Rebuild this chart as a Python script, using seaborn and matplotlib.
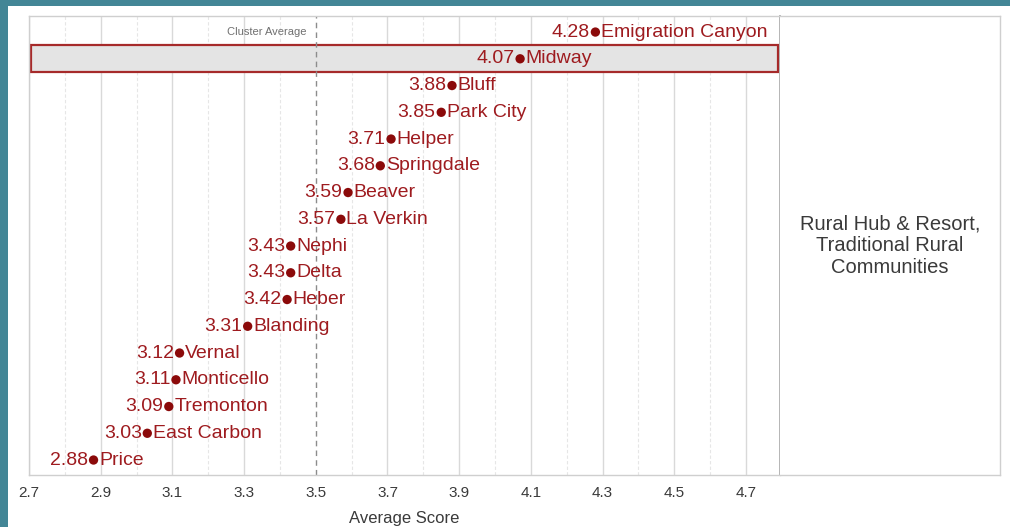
import matplotlib
matplotlib.use("Agg")
import matplotlib.pyplot as plt
from matplotlib.patches import Rectangle
import pandas as pd
import seaborn as sns

# values
places = ['Emigration Canyon', 'Midway', 'Bluff', 'Park City', 'Helper', 'Springdale',
          'Beaver', 'La Verkin', 'Nephi', 'Delta', 'Heber', 'Blanding', 'Vernal',
          'Monticello', 'Tremonton', 'East Carbon', 'Price']
scores = [4.28, 4.07, 3.88, 3.85, 3.71, 3.68, 3.59, 3.57, 3.43, 3.43, 3.42, 3.31,
          3.12, 3.11, 3.09, 3.03, 2.88]
highlight = 'Midway'
cluster_avg = 3.5
cluster_name = 'Rural Hub & Resort,\nTraditional Rural\nCommunities'
major_ticks = [2.7, 2.9, 3.1, 3.3, 3.5, 3.7, 3.9, 4.1, 4.3, 4.5, 4.7]
minor_ticks = [2.8, 3.0, 3.2, 3.4, 3.6, 3.8, 4.0, 4.2, 4.4, 4.6]

RED_TXT = '#9e1b1f'
RED_DOT = '#8b0a0a'


def main():
    sns.set_style('white')
    plt.rcParams['font.family'] = ['Liberation Sans', 'DejaVu Sans']

    df = pd.DataFrame({'place': places, 'score': scores})
    df['row'] = range(len(df))

    fig = plt.figure(figsize=(10.10, 5.27), dpi=100)
    fig.patch.set_facecolor('#438696')
    # white card inside the teal frame
    fig.patches.append(Rectangle((8 / 1010, 0), 1, 1 - 6 / 527, transform=fig.transFigure,
                                 facecolor='white', edgecolor='none', zorder=-10))

    ax = fig.add_axes([29 / 1010, 52 / 527, 751 / 1010, 459 / 527])
    side = fig.add_axes([780 / 1010, 52 / 527, 220 / 1010, 459 / 527])

    # grid
    for t in major_ticks:
        if t != cluster_avg:
            ax.axvline(t, color='#d9d9d9', lw=1.0, zorder=1)
    for t in minor_ticks:
        ax.axvline(t, color='#e6e6e6', lw=0.8, ls=(0, (3, 2)), zorder=1)
    ax.axvline(cluster_avg, color='#8c8c8c', lw=1.0, ls=(0, (4, 3)), zorder=2)

    # highlighted row
    hi = df.loc[df['place'] == highlight, 'row'].iloc[0]
    ax.add_patch(Rectangle((0.003, hi - 0.5), 0.994, 1.0,
                           transform=ax.get_yaxis_transform(),
                           facecolor='#e4e4e4', edgecolor='#a62a2a', lw=1.6, zorder=1.5))

    sns.scatterplot(data=df, x='score', y='row', ax=ax, color=RED_DOT, s=45,
                    edgecolor='none', zorder=4, legend=False)

    for _, r in df.iterrows():
        ax.annotate(f"{r['score']:.2f}", (r['score'], r['row']), xytext=(-4, 0),
                    textcoords='offset points', ha='right', va='center',
                    fontsize=14, color=RED_TXT, zorder=5)
        ax.annotate(r['place'], (r['score'], r['row']), xytext=(4, 0),
                    textcoords='offset points', ha='left', va='center',
                    fontsize=14, color=RED_TXT, zorder=5)

    ax.text(cluster_avg - 0.025, 0, 'Cluster Average', ha='right', va='center',
            fontsize=8, color='#707070', zorder=3)

    ax.set_xlim(2.7, 4.795)
    ax.set_ylim(len(df) - 0.44, -0.6)
    ax.set_xticks(major_ticks)
    ax.set_xticklabels([f'{t:.1f}' for t in major_ticks])
    ax.set_yticks([])
    ax.set_ylabel('')
    ax.set_xlabel('Average Score', fontsize=12, color='#3a3a3a', labelpad=8)
    ax.tick_params(axis='x', length=0, labelsize=11, labelcolor='#3a3a3a', pad=8)
    for sp in ax.spines.values():
        sp.set_color('#cfcfcf')
        sp.set_linewidth(1.0)
    ax.spines['right'].set_color('#b5b5b5')
    ax.spines['right'].set_linewidth(1.4)

    side.set_xticks([])
    side.set_yticks([])
    for sp in side.spines.values():
        sp.set_color('#cfcfcf')
        sp.set_linewidth(1.0)
    side.spines['left'].set_visible(False)
    side.text(0.5, 0.5, cluster_name, ha='center', va='center', fontsize=14.5,
              color='#3a3a3a', linespacing=1.2, transform=side.transAxes)

    fig.savefig('out.png', dpi=100, facecolor=fig.get_facecolor())


if __name__ == '__main__':
    main()
